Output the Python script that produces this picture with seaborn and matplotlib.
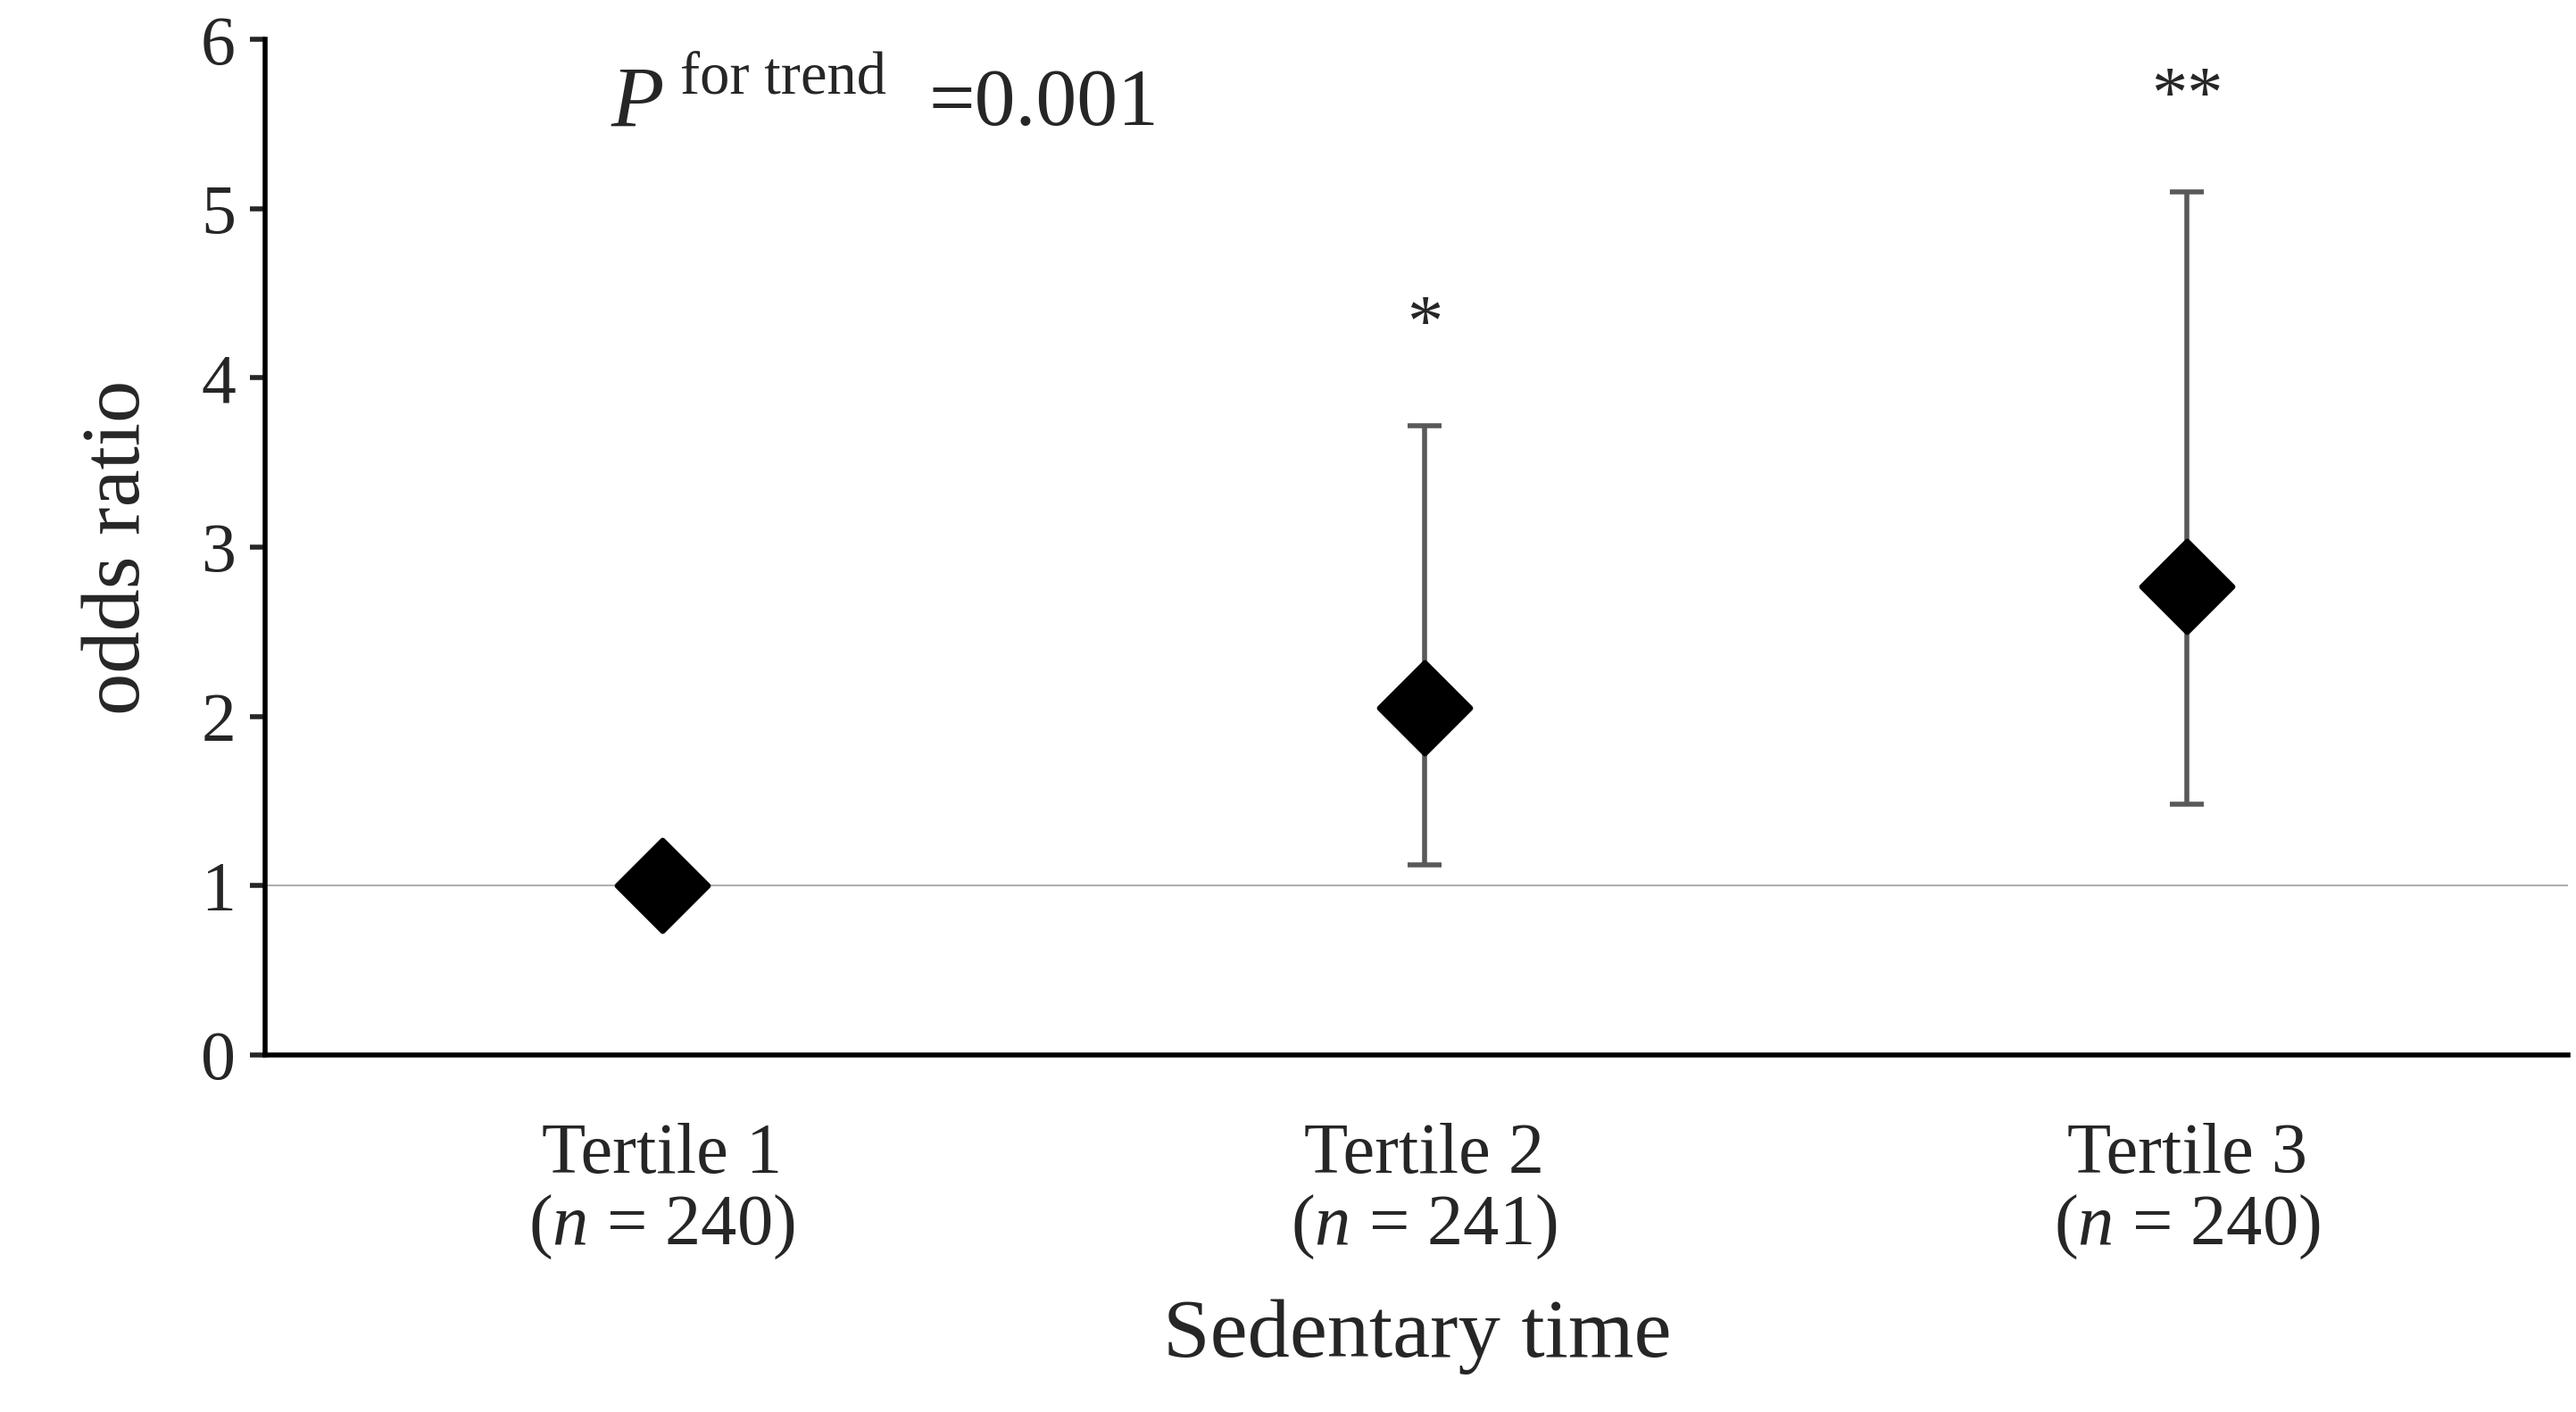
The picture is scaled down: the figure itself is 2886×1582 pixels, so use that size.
import matplotlib
matplotlib.use("Agg")
import matplotlib.pyplot as plt
import seaborn as sns
import pandas as pd
import numpy as np

categories = ["Tertile 1", "Tertile 2", "Tertile 3"]
n_values = [240, 241, 240]
odds_ratio = [1.0, 2.05, 2.77]
ci_low = [np.nan, 1.12, 1.48]
ci_high = [np.nan, 3.72, 5.10]
stars = ["", "*", "**"]
star_y = [np.nan, 4.3, 5.65]

sns.set_style("white")
plt.rcParams['font.family'] = ['Liberation Serif', 'DejaVu Serif']
plt.rcParams['mathtext.fontset'] = 'custom'
plt.rcParams['mathtext.rm'] = 'Liberation Serif'
plt.rcParams['mathtext.it'] = 'Liberation Serif:italic'

fig = plt.figure(figsize=(28.86, 15.82), dpi=100)
ax = fig.add_axes([0.103, 0.253, 0.894, 0.719])

df = pd.DataFrame({"x": range(len(categories)), "or": odds_ratio,
                   "lo": ci_low, "hi": ci_high})
ax.axhline(1, color="#b0b0b0", lw=1.5, zorder=0)
m = df["lo"].notna()
ax.errorbar(df["x"][m], df["or"][m],
            yerr=[df["or"][m] - df["lo"][m], df["hi"][m] - df["or"][m]],
            fmt="none", ecolor="#595959", elinewidth=4, capsize=14, capthick=4, zorder=1)
sns.scatterplot(data=df, x="x", y="or", marker="D", s=2700, color="black",
                edgecolor="black", ax=ax, zorder=3, legend=False)
for i, (s, y) in enumerate(zip(stars, star_y)):
    if s:
        ax.text(i, y, s, ha="center", va="center", fontsize=58)

ax.text(0.150, 0.935, r"$\it{P}$", transform=ax.transAxes, fontsize=70, va="center")
ax.text(0.180, 0.962, "for trend", transform=ax.transAxes, fontsize=48, va="center")
ax.text(0.288, 0.935, "=0.001", transform=ax.transAxes, fontsize=66, va="center")

ax.set_xlim(-0.52, 2.5)
ax.set_ylim(0, 6)
ax.set_yticks(range(7))
ax.set_xticks(range(len(categories)))
ax.set_xticklabels([f"{c}\n($\\it{{n}}$ = {n})" for c, n in zip(categories, n_values)],
                   fontsize=58, linespacing=1.1)
ax.tick_params(axis="x", length=0, pad=55)
ax.tick_params(axis="y", length=12, width=4, labelsize=56, direction="out", left=True, pad=12)
ax.set_xlabel("Sedentary time", fontsize=68, labelpad=30)
ax.set_ylabel("odds ratio", fontsize=68, labelpad=35)
for sp in ["top", "right"]:
    ax.spines[sp].set_visible(False)
for sp in ["left", "bottom"]:
    ax.spines[sp].set_linewidth(4)
    ax.spines[sp].set_color("black")

fig.savefig("out.png", dpi=100)
